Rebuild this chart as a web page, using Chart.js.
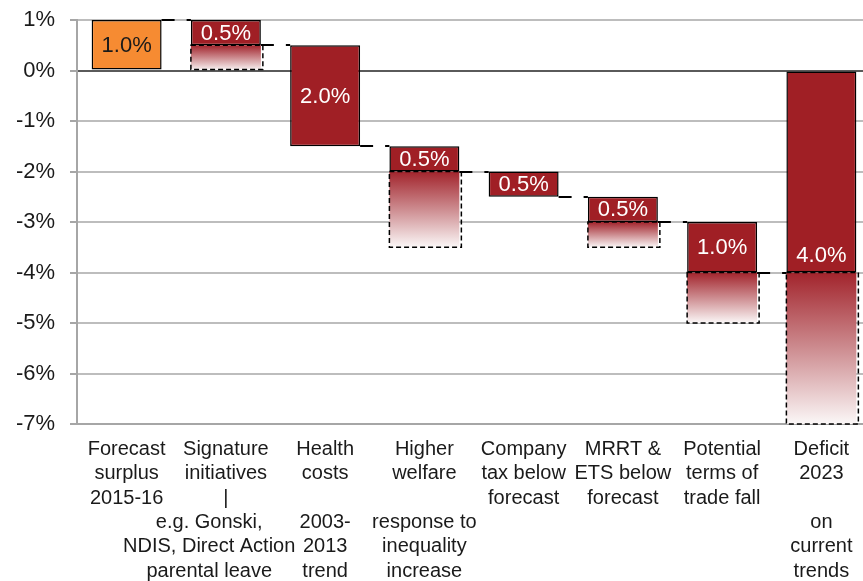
<!DOCTYPE html>
<html>
<head>
<meta charset="utf-8">
<script src="https://cdn.jsdelivr.net/npm/chart.js@4.4.1/dist/chart.umd.min.js"></script>
<style>
  html, body { margin: 0; padding: 0; background: #fff; overflow: hidden; }
  #wrap { position: absolute; left: 0; top: 0; width: 872px; height: 581px; }
</style>
</head>
<body>
<div id="wrap"><canvas id="c" width="872" height="581"></canvas></div>
<script>
// ---- data ----
const NB = '\u00a0\u00a0\u00a0\u00a0\u00a0\u00a0';
const categories = [
  ['Forecast', 'surplus', '2015-16'],
  ['Signature', 'initiatives', '|', 'e.g. Gonski,' + NB, 'NDIS, Direct Action' + NB, 'parental leave' + NB],
  ['Health', 'costs', '', '2003-', '2013', 'trend'],
  ['Higher', 'welfare', '', 'response to', 'inequality', 'increase'],
  ['Company', 'tax below', 'forecast'],
  ['MRRT &', 'ETS below', 'forecast'],
  ['Potential', 'terms of', 'trade fall'],
  ['Deficit', '2023', '', 'on', 'current', 'trends']
];
// solid (firm) segments: start and end of each floating bar, in % of GDP
const solidStart = [0, 1.0, 0.5, -1.5, -2.0, -2.5, -3.0, 0];
const solidEnd   = [1.0, 0.5, -1.5, -2.0, -2.5, -3.0, -4.0, -4.0];
// uncertain (faded) extension segments
const rangeStart = [null, 0.5, null, -2.0, null, -3.0, -4.0, -4.0];
const rangeEnd   = [null, 0.0, null, -3.5, null, -3.5, -5.0, -7.0];
const yTicks = [1, 0, -1, -2, -3, -4, -5, -6, -7];

const FONT = "'Liberation Sans', Arial, sans-serif";
const RED = '#a01f25';
const ORANGE = '#f68b32';

const solidData = solidStart.map((s, i) => [s, solidEnd[i]]);
const rangeData = rangeStart.map((s, i) => s === null ? null : [s, rangeEnd[i]]);
const valueLabels = solidStart.map((s, i) => Math.abs(solidEnd[i] - s).toFixed(1) + '%');

function gradFill(ctx) {
  const chart = ctx.chart;
  const raw = ctx.raw;
  if (!chart.chartArea || !raw) return 'rgba(200,120,120,0.5)';
  const y = chart.scales.y;
  const top = y.getPixelForValue(Math.max(raw[0], raw[1]));
  const bot = y.getPixelForValue(Math.min(raw[0], raw[1]));
  const g = chart.ctx.createLinearGradient(0, top, 0, bot);
  g.addColorStop(0, 'rgb(162,36,44)');
  g.addColorStop(0.5, 'rgb(205,140,144)');
  g.addColorStop(1, 'rgb(251,247,247)');
  return g;
}

const decor = {
  id: 'decor',
  afterDatasetsDraw(chart) {
    const ctx = chart.ctx;
    const y = chart.scales.y;
    const solid = chart.getDatasetMeta(0).data;
    const range = chart.getDatasetMeta(1).data;
    ctx.save();
    // dashed outlines of faded segments
    ctx.strokeStyle = '#000';
    ctx.lineWidth = 1.5;
    ctx.setLineDash([5, 3]);
    range.forEach((el, i) => {
      if (rangeData[i] === null || !el) return;
      const w = el.width;
      const x0 = el.x - w / 2, x1 = el.x + w / 2 + 2;
      const t = Math.min(el.y, el.base), b = Math.max(el.y, el.base);
      ctx.strokeRect(x0, t, x1 - x0, b - t);
    });
    // connectors
    ctx.lineWidth = 2;
    ctx.setLineDash([13, 12]);
    for (let i = 0; i < solid.length - 1; i++) {
      const a = solid[i], b = solid[i + 1];
      const py = Math.round(y.getPixelForValue(solidEnd[i]));
      ctx.beginPath();
      ctx.moveTo(a.x + a.width / 2, py);
      ctx.lineTo(b.x - b.width / 2, py);
      ctx.stroke();
    }
    ctx.setLineDash([]);
    // value labels
    ctx.font = '22px ' + FONT;
    ctx.textAlign = 'center';
    ctx.textBaseline = 'middle';
    solid.forEach((el, i) => {
      const t = Math.min(el.y, el.base), b = Math.max(el.y, el.base);
      let py = (t + b) / 2;
      if (i === solid.length - 1) py = b - 18;
      ctx.fillStyle = i === 0 ? '#1a1a1a' : '#ffffff';
      ctx.fillText(valueLabels[i], el.x, py + 1);
    });
    ctx.restore();
  }
};

new Chart(document.getElementById('c'), {
  type: 'bar',
  data: {
    labels: categories,
    datasets: [
      {
        data: solidData,
        backgroundColor: solidStart.map((s, i) => i === 0 ? ORANGE : RED),
        borderColor: '#000',
        borderWidth: 1.5,
        borderSkipped: false,
        grouped: false,
        categoryPercentage: 1,
        barPercentage: 0.705
      },
      {
        data: rangeData,
        backgroundColor: gradFill,
        borderWidth: 0,
        grouped: false,
        categoryPercentage: 1,
        barPercentage: 0.705
      }
    ]
  },
  options: {
    responsive: false,
    animation: false,
    layout: { padding: { top: 20, right: 1, left: 0, bottom: 0 } },
    plugins: { legend: { display: false }, tooltip: { enabled: false } },
    scales: {
      x: {
        grid: { display: false, drawTicks: false },
        border: { display: true, color: '#a6a6a6', width: 2 },
        ticks: {
          autoSkip: false,
          maxRotation: 0,
          minRotation: 0,
          padding: 13,
          color: '#1a1a1a',
          font: { family: FONT, size: 20, lineHeight: 1.22 }
        },
        afterFit(s) { s.height = 157; }
      },
      y: {
        min: -7,
        max: 1,
        afterBuildTicks(s) { s.ticks = yTicks.map(v => ({ value: v })); },
        grid: {
          color: c => (c.tick && c.tick.value === 0) ? '#5a5a5a' : '#bdbdbd',
          lineWidth: 2,
          tickLength: 7,
          tickColor: '#a6a6a6'
        },
        border: { display: true, color: '#a6a6a6', width: 2 },
        ticks: {
          padding: 15,
          color: '#1a1a1a',
          font: { family: FONT, size: 22 },
          callback: v => v + '%'
        },
        afterFit(s) { s.width = 77; s.paddingTop = 0; s.paddingBottom = 0; }
      }
    }
  },
  plugins: [decor]
});
</script>
</body>
</html>
